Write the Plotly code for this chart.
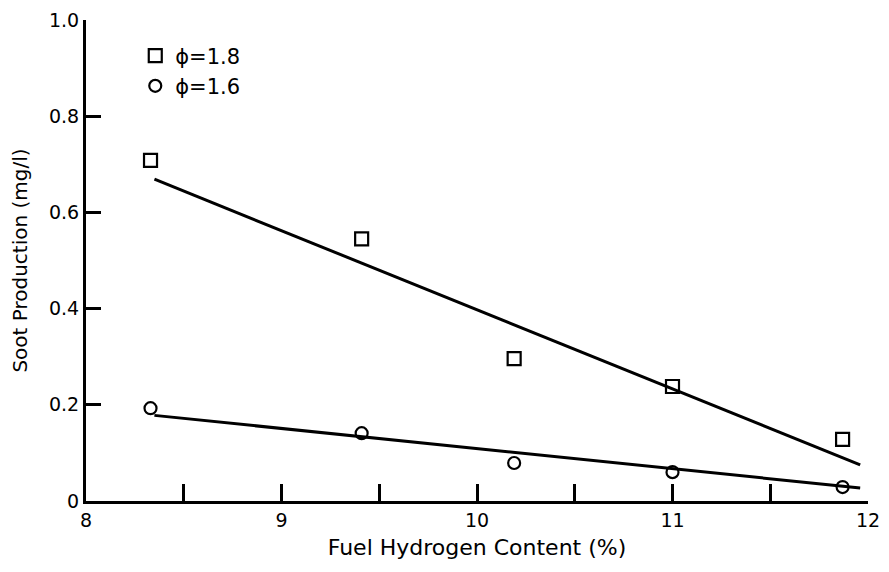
import plotly.graph_objects as go

# measured points
hydrogen = [8.33, 9.41, 10.19, 11.0, 11.87]
soot_18 = [0.708, 0.545, 0.296, 0.238, 0.128]
soot_16 = [0.193, 0.141, 0.079, 0.060, 0.029]

# fitted lines (end points)
fit_x = [8.35, 11.96]
fit_18 = [0.669, 0.075]
fit_16 = [0.178, 0.027]

x_ticks = [8, 8.5, 9, 9.5, 10, 10.5, 11, 11.5, 12]
x_labels = ["8", "", "9", "", "10", "", "11", "", "12"]
y_ticks = [0, 0.2, 0.4, 0.6, 0.8, 1.0]
y_labels = ["0", "0.2", "0.4", "0.6", "0.8", "1.0"]

font = "DejaVu Sans"

fig = go.Figure()
fig.add_trace(go.Scatter(x=fit_x, y=fit_18, mode="lines", line=dict(color="black", width=3), showlegend=False))
fig.add_trace(go.Scatter(x=fit_x, y=fit_16, mode="lines", line=dict(color="black", width=3), showlegend=False))
fig.add_trace(go.Scatter(x=hydrogen, y=soot_18, mode="markers", name="ϕ=1.8",
                         marker=dict(symbol="square-open", size=13, color="black", line=dict(width=2.2))))
fig.add_trace(go.Scatter(x=hydrogen, y=soot_16, mode="markers", name="ϕ=1.6",
                         marker=dict(symbol="circle-open", size=12, color="black", line=dict(width=2.2))))

# page body has an 8px margin, so the figure is 8px smaller and margins shifted
fig.update_layout(
    width=881, height=564,
    paper_bgcolor="white", plot_bgcolor="white",
    margin=dict(l=78, r=21, t=12, b=71),
    font=dict(family=font, size=19, color="black"),
    legend=dict(x=0.063, y=0.968, xanchor="left", yanchor="top", bgcolor="rgba(0,0,0,0)",
                font=dict(size=21), itemwidth=30, tracegroupgap=0),
    xaxis=dict(range=[8, 12], tickvals=x_ticks, ticktext=x_labels, ticks="inside", ticklen=17,
               tickwidth=2.5, tickcolor="black", showline=True, linecolor="black", linewidth=3,
               showgrid=False, zeroline=False, automargin=False, ticklabeloverflow="allow",
               title=dict(text="Fuel Hydrogen Content (%)", font=dict(size=22), standoff=10)),
    yaxis=dict(range=[0, 1.0], tickvals=y_ticks, ticktext=y_labels, ticks="inside", ticklen=15,
               tickwidth=2.5, tickcolor="black", showline=True, linecolor="black", linewidth=3,
               showgrid=False, zeroline=False, automargin=False, ticklabeloverflow="allow",
               title=dict(text="Soot Production (mg/l)", font=dict(size=20), standoff=18)),
)

fig.write_html("out.html")
